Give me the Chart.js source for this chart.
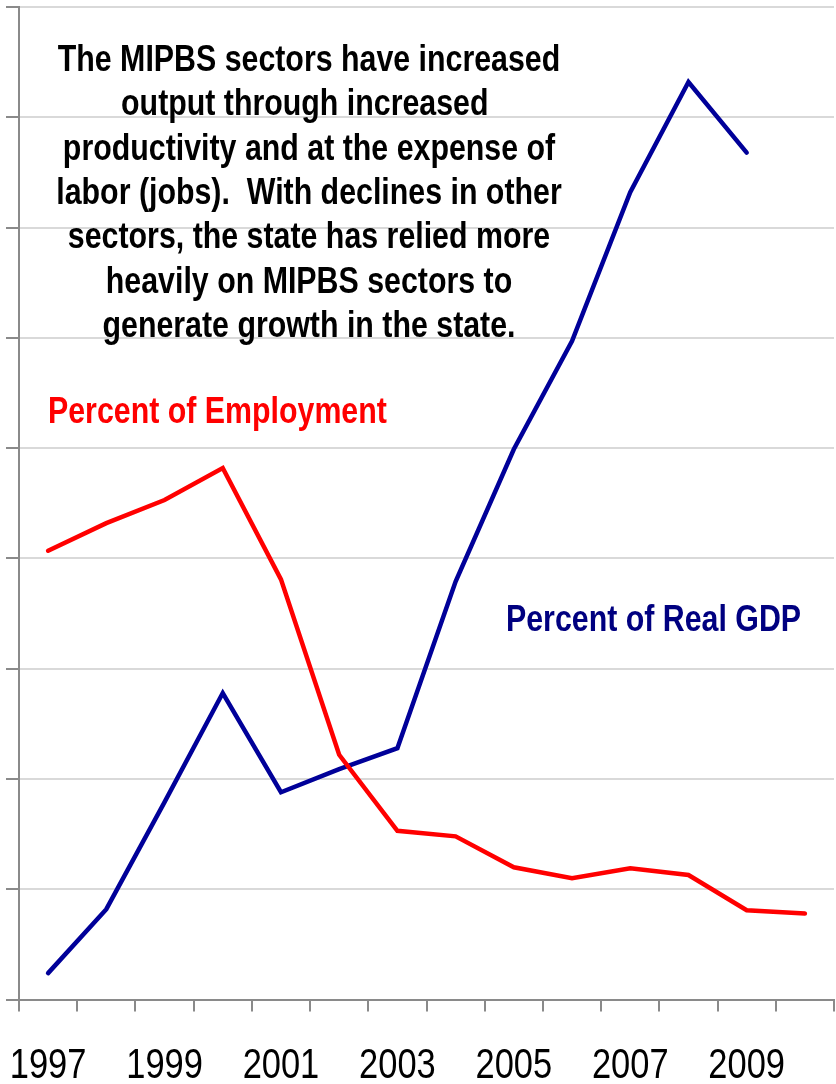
<!DOCTYPE html>
<html>
<head>
<meta charset="utf-8">
<script src="https://cdn.jsdelivr.net/npm/chart.js@4.4.1/dist/chart.umd.min.js"></script>
<style>
html,body{margin:0;padding:0;background:#fff;}
canvas{display:block;}
</style>
</head>
<body>
<canvas id="c" width="836" height="1084"></canvas>
<script>
// ---- data ----
const YEARS = ['1997','1998','1999','2000','2001','2002','2003','2004','2005','2006','2007','2008','2009','2010'];
const TICK_LABELS = ['1997','','1999','','2001','','2003','','2005','','2007','','2009',''];
const EMPLOYMENT = [4.07,4.32,4.53,4.82,3.81,2.22,1.53,1.48,1.20,1.10,1.19,1.13,0.81,0.78];
const REAL_GDP = [0.24,0.82,1.79,2.78,1.88,2.09,2.28,3.79,4.99,5.97,7.32,8.32,7.68,null];
const Y_MIN = 0, Y_MAX = 9, Y_STEP = 1;
const NOTE_LINES = [
  'The MIPBS sectors have increased',
  'output through increased ',
  'productivity and at the expense of',
  'labor (jobs).  With declines in other',
  'sectors, the state has relied more',
  'heavily on MIPBS sectors to',
  'generate growth in the state.'
];
const EMP_LABEL = 'Percent of Employment';
const GDP_LABEL = 'Percent of Real GDP';

// ---- font detection (narrow font or horizontally condensed fallback) ----
function hasFont(name){
  const c = document.createElement('canvas').getContext('2d');
  const s = 'abcdefghijklmnopqrstuvwxyz1997';
  c.font = '40px monospace'; const a = c.measureText(s).width;
  c.font = '40px "' + name + '", monospace'; const b = c.measureText(s).width;
  return Math.abs(a - b) > 0.5;
}
const NARROW = hasFont('Liberation Sans Narrow');
const FONT = NARROW ? '"Liberation Sans Narrow"' : '"Liberation Sans", Arial, sans-serif';
const SX = NARROW ? 1 : 0.82;

const AXIS_GRAY = '#8a8a8a';
const GRID_GRAY = '#d9d9d9';

function drawText(ctx, txt, x, y, align, color, size, weight){
  ctx.save();
  ctx.font = weight + ' ' + size + 'px ' + FONT;
  ctx.fillStyle = color;
  ctx.textAlign = align;
  ctx.textBaseline = 'alphabetic';
  ctx.translate(x, y);
  ctx.scale(SX, 1);
  ctx.fillText(txt, 0, 0);
  ctx.restore();
}

const textPlugin = {
  id: 'notes',
  afterDraw(chart){
    const ctx = chart.ctx;
    NOTE_LINES.forEach((t, i) => drawText(ctx, t, 309, 71 + i * 44.3, 'center', '#000000', 37, 'bold'));
    drawText(ctx, EMP_LABEL, 48, 423, 'left', '#ff0000', 37, 'bold');
    drawText(ctx, GDP_LABEL, 506, 631, 'left', '#000080', 37, 'bold');
    // x tick labels, placed at the category scale's tick positions
    const xs = chart.scales.x;
    TICK_LABELS.forEach((lbl, i) => {
      if (!lbl) return;
      drawText(ctx, lbl, xs.getPixelForTick(i), xs.bottom - 6, 'center', '#000000', 42, 'normal');
    });
  }
};

new Chart(document.getElementById('c'), {
  type: 'line',
  data: {
    labels: YEARS,
    datasets: [
      { label: EMP_LABEL, data: EMPLOYMENT, borderColor: '#ff0000', borderWidth: 4.5, borderCapStyle: 'round', pointRadius: 0, tension: 0, fill: false },
      { label: GDP_LABEL, data: REAL_GDP, borderColor: '#000099', borderWidth: 4.5, borderCapStyle: 'round', pointRadius: 0, tension: 0, fill: false }
    ]
  },
  options: {
    responsive: false,
    devicePixelRatio: 1,
    animation: false,
    layout: { padding: { left: 6, top: 7, right: 2, bottom: 0 } },
    plugins: { legend: { display: false }, tooltip: { enabled: false }, title: { display: false } },
    scales: {
      x: {
        offset: true,
        grid: { offset: true, drawOnChartArea: false, drawTicks: true, tickLength: 12, tickColor: AXIS_GRAY, lineWidth: 2 },
        border: { color: AXIS_GRAY, width: 2 },
        ticks: {
          autoSkip: false, maxRotation: 0, minRotation: 0, padding: 11,
          color: 'rgba(0,0,0,0)',
          font: { size: 42, family: FONT },
          callback: (v, i) => TICK_LABELS[i]
        },
        afterFit(scale){ scale.paddingLeft = 0; scale.paddingRight = 0; }
      },
      y: {
        min: Y_MIN, max: Y_MAX,
        ticks: { display: false, stepSize: Y_STEP },
        grid: { color: GRID_GRAY, lineWidth: 2, drawTicks: true, tickLength: 13, tickColor: AXIS_GRAY },
        border: { color: AXIS_GRAY, width: 2 }
      }
    }
  },
  plugins: [textPlugin]
});
</script>
</body>
</html>
